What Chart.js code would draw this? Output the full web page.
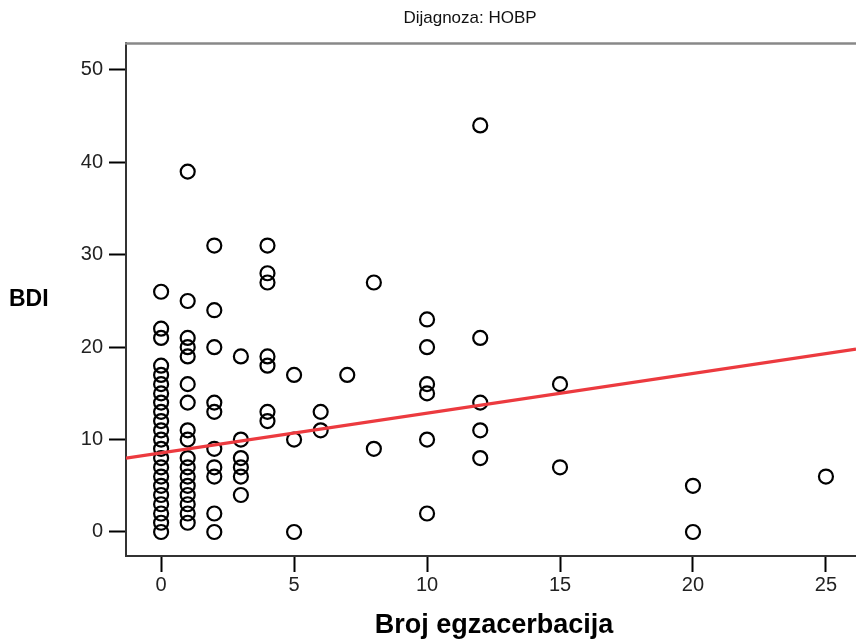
<!DOCTYPE html>
<html>
<head>
<meta charset="utf-8">
<script src="https://cdn.jsdelivr.net/npm/chart.js@4"></script>
<style>
  html, body { margin: 0; padding: 0; background: #fff; }
  #wrap { width: 856px; height: 642px; position: relative; }
</style>
</head>
<body>
<div id="wrap"><canvas id="c" width="856" height="642"></canvas></div>
<script>
// Broj egzacerbacija (x) and BDI score (y) per patient
const exacerbations = [
  0,0,0,0,0,0,0,0,0,0,0,0,0,0,0,0,0,0,0,0,0,0,
  1,1,1,1,1,1,1,1,1,1,1,1,1,1,1,1,1,
  2,2,2,2,2,2,2,2,2,2,
  3,3,3,3,3,3,
  4,4,4,4,4,4,4,
  5,5,5,
  6,6,
  7,
  8,8,
  10,10,10,10,10,10,
  12,12,12,12,12,
  15,15,
  20,20,
  25
];
const bdi = [
  0,1,2,3,4,5,6,7,8,9,10,11,12,13,14,15,16,17,18,21,22,26,
  1,2,3,4,5,6,7,8,10,11,14,16,19,20,21,25,39,
  0,2,6,7,9,13,14,20,24,31,
  4,6,7,8,10,19,
  12,13,18,19,27,28,31,
  0,10,17,
  11,13,
  17,
  9,27,
  2,10,15,16,20,23,
  8,11,14,21,44,
  7,16,
  0,5,
  6
];

// Fitted linear trend, read at the two ends of the x range
const fitX = [-1.32, 26.13];
const fitY = [8.0, 19.8];

const xTicks = [0, 5, 10, 15, 20, 25];
const yTicks = [0, 10, 20, 30, 40, 50];
const xRange = [-1.32, 26.13];
const yRange = [-2.6, 52.92];

const titleText = 'Dijagnoza: HOBP';
const xTitle = 'Broj egzacerbacija';
const yTitle = 'BDI';

const points = exacerbations.map((x, i) => ({ x: x, y: bdi[i] }));
const fitLine = fitX.map((x, i) => ({ x: x, y: fitY[i] }));

const tickFont = { family: '"Liberation Sans", Arial, sans-serif', size: 20 };

// Title, axis captions and the top frame line
const decor = {
  id: 'decor',
  afterDraw(chart) {
    const ctx = chart.ctx;
    const a = chart.chartArea;
    ctx.save();
    ctx.strokeStyle = '#888';
    ctx.lineWidth = 2.5;
    ctx.beginPath();
    ctx.moveTo(a.left - 1, a.top + 0.5);
    ctx.lineTo(a.right, a.top + 0.5);
    ctx.stroke();

    ctx.fillStyle = '#111';
    ctx.textAlign = 'center';
    ctx.textBaseline = 'middle';
    ctx.font = '17px "Liberation Sans", Arial, sans-serif';
    ctx.fillText(titleText, 470, 18);

    ctx.font = 'bold 27px "Liberation Sans", Arial, sans-serif';
    ctx.fillStyle = '#000';
    ctx.fillText(xTitle, 494, 626);

    ctx.textAlign = 'left';
    ctx.font = 'bold 23px "Liberation Sans", Arial, sans-serif';
    ctx.fillText(yTitle, 9, 300);
    ctx.restore();
  }
};

new Chart(document.getElementById('c'), {
  type: 'scatter',
  data: {
    datasets: [
      {
        type: 'line',
        data: fitLine,
        borderColor: '#ec3a3f',
        borderWidth: 3.2,
        pointRadius: 0,
        fill: false,
        order: 0
      },
      {
        data: points,
        pointStyle: 'circle',
        pointRadius: 7,
        pointHoverRadius: 7,
        borderWidth: 2.2,
        borderColor: '#000',
        backgroundColor: 'rgba(0,0,0,0)',
        order: 1
      }
    ]
  },
  options: {
    responsive: false,
    animation: false,
    devicePixelRatio: 1,
    layout: { autoPadding: false, padding: { top: 43, left: 0, right: 0, bottom: 0 } },
    plugins: {
      legend: { display: false },
      tooltip: { enabled: false },
      title: { display: false }
    },
    scales: {
      x: {
        type: 'linear',
        min: xRange[0],
        max: xRange[1],
        afterBuildTicks: s => { s.ticks = xTicks.map(v => ({ value: v })); },
        afterFit: s => { s.height = 86; s.paddingLeft = 0; s.paddingRight = 0; },
        grid: { drawOnChartArea: false, drawTicks: true, tickLength: 16, tickWidth: 2, tickColor: '#000' },
        border: { display: true, color: '#333', width: 2 },
        ticks: {
          color: '#222',
          padding: 1,
          maxRotation: 0,
          font: tickFont
        }
      },
      y: {
        type: 'linear',
        min: yRange[0],
        max: yRange[1],
        afterBuildTicks: s => { s.ticks = yTicks.map(v => ({ value: v })); },
        afterFit: s => { s.width = 126; s.paddingTop = 0; s.paddingBottom = 0; },
        grid: { drawOnChartArea: false, drawTicks: true, tickLength: 17, tickWidth: 2, tickColor: '#000' },
        border: { display: true, color: '#333', width: 2 },
        ticks: {
          color: '#222',
          padding: 6,
          font: tickFont
        }
      }
    }
  },
  plugins: [decor]
});
</script>
</body>
</html>
